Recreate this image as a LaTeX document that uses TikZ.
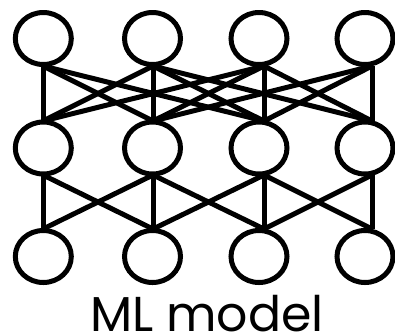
\documentclass[tikz,border=0pt]{standalone}
\usepackage{fontspec}
\usetikzlibrary{shapes.geometric}
\setmainfont{Poppins}
\begin{document}
\begin{tikzpicture}[x=1pt,y=-1pt,
  neuron/.style={draw=black,line width=5pt,ellipse,minimum width=56pt,minimum height=52pt,inner sep=0pt},
  link/.style={line width=5pt,draw=black}]
\useasboundingbox (0,0) rectangle (395,333);
% neurons: three layers of four
\foreach \i/\cx/\lx in {1/43.3/43,2/152.5/153,3/259/264,4/365/372}{
  \node[neuron] (t\i) at (\cx,38.5) {};
  \node[neuron] (m\i) at (\cx,148) {};
  \node[neuron] (b\i) at (\cx,256.5) {};
  \coordinate (t\i s) at (\lx,66);
  \coordinate (m\i n) at (\lx,121);
  \coordinate (m\i s) at (\lx,175);
  \coordinate (b\i n) at (\lx,229);
}
% top layer to middle layer
\foreach \i/\j in {1/1,1/2,1/3,2/1,2/2,2/3,2/4,3/1,3/2,3/3,3/4,4/2,4/3,4/4}
  \draw[link] (t\i s) -- (m\j n);
% middle layer to bottom layer
\foreach \i/\j in {1/1,1/2,2/1,2/2,2/3,3/2,3/3,3/4,4/3,4/4}
  \draw[link] (m\i s) -- (b\j n);
\node[anchor=base,font=\fontsize{49}{49}\selectfont,inner sep=0pt] (label) at (207,331.5) {ML model};
\end{tikzpicture}
\end{document}
